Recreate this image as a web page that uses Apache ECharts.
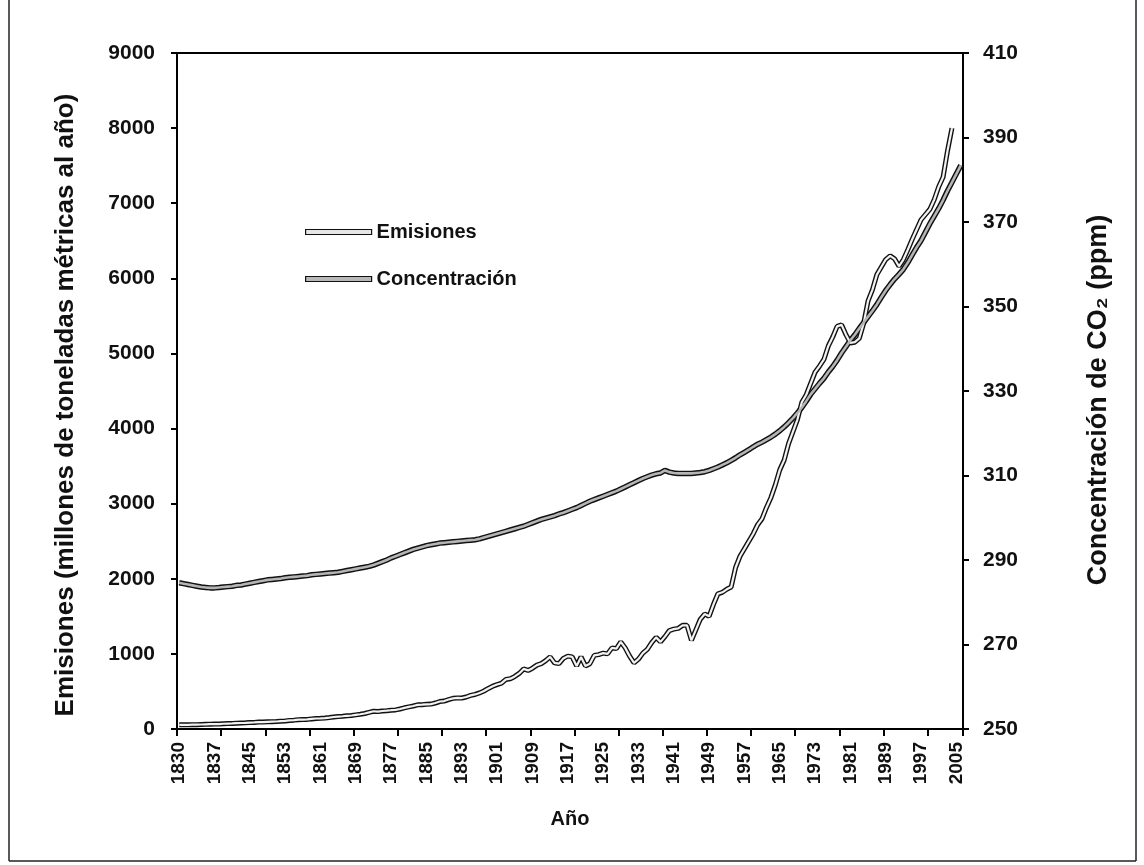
<!DOCTYPE html>
<html>
<head>
<meta charset="utf-8">
<script src="https://cdn.jsdelivr.net/npm/echarts@6/dist/echarts.min.js"></script>
<style>
html,body{margin:0;padding:0;background:#fff;}
#chart{width:1144px;height:865px;}
</style>
</head>
<body>
<div id="chart"></div>
<script>
// Category slots (one per year, 1829..2006 as positioned on the axis)
var categories = [];
for (var y = 1829; y <= 2006; y++) categories.push(String(y));

// Tick labels shown every 8th category
var tickLabels = ['1830','1837','1845','1853','1861','1869','1877','1885','1893','1901','1909','1917','1925','1933','1941','1949','1957','1965','1973','1981','1989','1997','2005'];

// Emisiones (millones de toneladas métricas al año), 1829..2004
var emisiones = [
55,55,56,58,58,60,62,64,66,66,
70,72,74,78,80,82,86,88,92,92,
95,98,100,104,108,114,118,124,126,128,
134,140,142,146,152,160,166,170,176,180,
188,196,206,222,236,232,240,244,250,254,
266,282,294,306,322,324,328,332,346,366,
372,392,408,414,412,426,448,460,480,506,
540,570,592,610,660,670,700,740,800,780,
810,850,870,910,960,880,870,940,970,960,
840,960,840,870,980,990,1010,1000,1080,1070,
1160,1080,970,880,930,1010,1060,1150,1220,1160,
1230,1310,1330,1340,1380,1380,1180,1320,1460,1530,
1500,1660,1800,1820,1860,1890,2150,2300,2400,2500,
2600,2720,2800,2950,3080,3250,3450,3580,3800,3960,
4120,4350,4450,4600,4750,4830,4920,5100,5220,5360,
5380,5250,5140,5150,5200,5400,5700,5850,6050,6150,
6250,6300,6260,6160,6250,6380,6520,6650,6780,6850,
6920,7050,7220,7350,7700,8000,null,null
];

// Concentración de CO2 (ppm), 1829..2006
var concentracion = [
284.6,284.4,284.2,284.0,283.8,283.6,283.5,283.4,283.4,283.5,
283.6,283.7,283.8,284.0,284.1,284.3,284.5,284.7,284.9,285.1,
285.3,285.4,285.5,285.6,285.8,285.9,286.0,286.1,286.2,286.3,
286.5,286.6,286.7,286.8,286.9,287.0,287.1,287.3,287.5,287.7,
287.9,288.1,288.3,288.5,288.8,289.2,289.6,290.0,290.5,290.9,
291.3,291.7,292.1,292.5,292.8,293.1,293.4,293.6,293.8,294.0,
294.1,294.2,294.3,294.4,294.5,294.6,294.7,294.8,295.0,295.3,
295.6,295.9,296.2,296.5,296.8,297.1,297.4,297.7,298.0,298.4,
298.8,299.2,299.6,299.9,300.2,300.5,300.9,301.2,301.6,302.0,
302.4,302.9,303.4,303.9,304.3,304.7,305.1,305.5,305.9,306.3,
306.8,307.3,307.8,308.3,308.8,309.3,309.7,310.1,310.4,310.6,
311.2,310.8,310.6,310.5,310.5,310.5,310.5,310.6,310.7,310.9,
311.2,311.6,312.0,312.5,313.0,313.6,314.2,314.9,315.5,316.1,
316.8,317.4,317.9,318.5,319.1,319.8,320.6,321.5,322.5,323.6,
324.8,326.1,327.6,329.2,330.5,331.8,333.0,334.5,335.8,337.3,
339.0,340.5,342.0,343.3,344.8,346.2,347.6,349.0,350.5,352.2,
353.8,355.2,356.5,357.6,358.8,360.4,362.2,364.0,365.6,367.6,
369.6,371.4,373.2,375.2,377.4,379.4,381.4,383.4
];

var FONT = '"Liberation Sans", Arial, sans-serif';
var chart = echarts.init(document.getElementById('chart'), null, {renderer: 'canvas'});

chart.setOption({
  animation: false,
  backgroundColor: '#fff',
  grid: {left: 177, right: 181, top: 53, bottom: 136, show: true, borderColor: '#000', borderWidth: 2},
  legend: {
    orient: 'vertical',
    left: 300,
    top: 217,
    itemGap: 27,
    itemWidth: 66,
    itemHeight: 5,
    icon: 'rect',
    textStyle: {fontFamily: FONT, fontWeight: 'bold', fontSize: 20, color: '#111'},
    data: [
      {name: 'Emisiones', itemStyle: {color: '#e6e6e6', borderColor: '#111', borderWidth: 1.2}},
      {name: 'Concentración', itemStyle: {color: '#b8b8b8', borderColor: '#111', borderWidth: 1.2}}
    ]
  },
  xAxis: {
    type: 'category',
    data: categories,
    boundaryGap: true,
    name: 'Año',
    nameLocation: 'middle',
    nameGap: 80,
    nameTextStyle: {fontFamily: FONT, fontWeight: 'bold', fontSize: 20, color: '#111'},
    axisLine: {lineStyle: {color: '#000', width: 2}},
    axisTick: {show: true, interval: 9, length: 7, lineStyle: {color: '#000', width: 2}},
    axisLabel: {
      interval: 7,
      rotate: 90,
      margin: 13,
      fontFamily: FONT, fontWeight: 'bold', fontSize: 19, color: '#111',
      formatter: function (v, i) { return tickLabels[i / 8] || ''; }
    },
    splitLine: {show: false}
  },
  yAxis: [
    {
      type: 'value', min: 0, max: 9000, interval: 1000,
      name: 'Emisiones (millones de toneladas métricas al año)',
      nameLocation: 'middle', nameRotate: 90, nameGap: 98,
      nameTextStyle: {fontFamily: FONT, fontWeight: 'bold', fontSize: 26, color: '#111', padding: [0, 28, 0, 0]},
      axisLine: {show: true, lineStyle: {color: '#000', width: 2}},
      axisTick: {show: true, length: 6, lineStyle: {color: '#000', width: 2}},
      axisLabel: {margin: 22, fontFamily: FONT, fontWeight: 'bold', fontSize: 21, color: '#111',
        formatter: function (v) { return String(v); }},
      splitLine: {show: false}
    },
    {
      type: 'value', min: 250, max: 410, interval: 20, position: 'right',
      name: 'Concentración de CO₂ (ppm)',
      nameLocation: 'middle', nameRotate: 90, nameGap: 122,
      nameTextStyle: {fontFamily: FONT, fontWeight: 'bold', fontSize: 27, color: '#111', padding: [0, 18, 0, 0]},
      axisLine: {show: true, lineStyle: {color: '#000', width: 2}},
      axisTick: {show: true, length: 6, lineStyle: {color: '#000', width: 2}},
      axisLabel: {margin: 20, fontFamily: FONT, fontWeight: 'bold', fontSize: 21, color: '#111',
        formatter: function (v) { return String(v); }},
      splitLine: {show: false}
    }
  ],
  series: [
    {name: 'Emisiones_borde', type: 'line', yAxisIndex: 0, data: emisiones, showSymbol: false, symbol: 'none', silent: true, z: 2,
     lineStyle: {color: '#111', width: 5}},
    {name: 'Concentración_borde', type: 'line', yAxisIndex: 1, data: concentracion, showSymbol: false, symbol: 'none', silent: true, z: 2,
     lineStyle: {color: '#111', width: 5.5}},
    {name: 'Emisiones', type: 'line', yAxisIndex: 0, data: emisiones, showSymbol: false, symbol: 'none', z: 3,
     itemStyle: {color: '#e6e6e6'}, lineStyle: {color: '#f2f2f2', width: 2.2}},
    {name: 'Concentración', type: 'line', yAxisIndex: 1, data: concentracion, showSymbol: false, symbol: 'none', z: 3,
     itemStyle: {color: '#b8b8b8'}, lineStyle: {color: '#b5b5b5', width: 2.6}}
  ],
  graphic: [
    {type: 'line', silent: true, shape: {x1: 9, y1: 0, x2: 9, y2: 861}, style: {stroke: '#222', lineWidth: 1.5}},
    {type: 'line', silent: true, shape: {x1: 1136, y1: 0, x2: 1136, y2: 861}, style: {stroke: '#222', lineWidth: 1.5}},
    {type: 'line', silent: true, shape: {x1: 9, y1: 861, x2: 1136, y2: 861}, style: {stroke: '#222', lineWidth: 1.5}}
  ]
});
</script>
</body>
</html>
